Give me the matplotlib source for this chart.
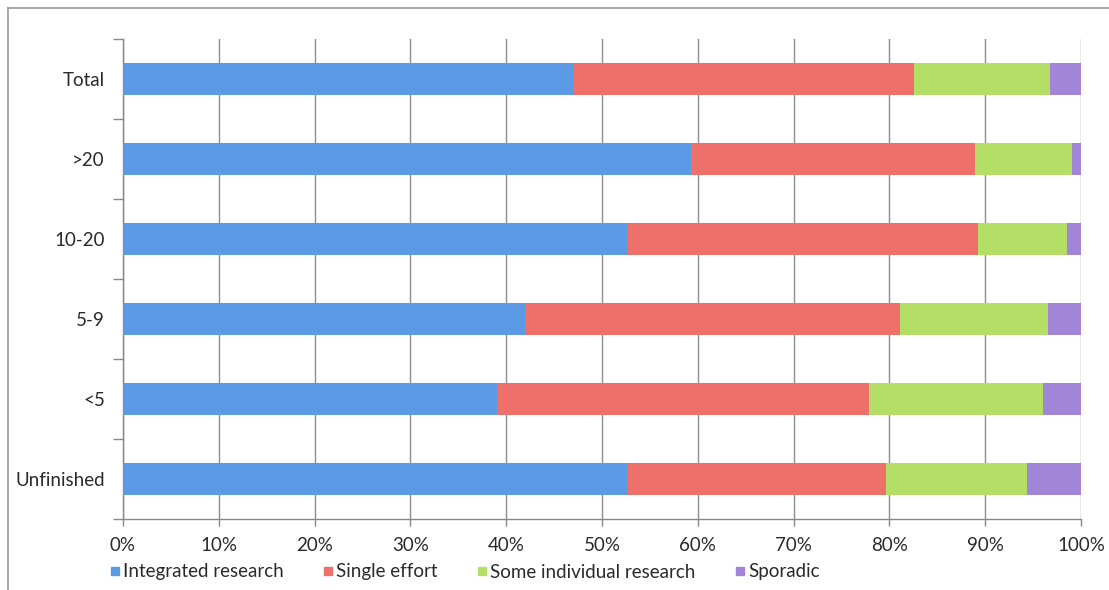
import numpy as np
import matplotlib.pyplot as plt
from matplotlib.lines import Line2D

plt.rcParams['font.family'] = ['Lato', 'DejaVu Sans']

# categories from bottom to top
groups = ['Unfinished', '<5', '5-9', '10-20', '>20', 'Total']
integrated = [52.7, 39.0, 42.0, 52.7, 59.3, 47.1]
single = [26.9, 38.9, 39.1, 36.6, 29.6, 35.5]
individual = [14.8, 18.1, 15.5, 9.2, 10.2, 14.2]
sporadic = [5.6, 4.0, 3.4, 1.5, 0.9, 3.2]

series = [
    ('Integrated research', integrated, '#5C9AE6'),
    ('Single effort', single, '#EF6F6B'),
    ('Some individual research', individual, '#B5DE66'),
    ('Sporadic', sporadic, '#A285D6'),
]

W, H = 1109, 590
fig = plt.figure(figsize=(W / 100, H / 100), dpi=100)
ax = fig.add_axes([123 / W, (H - 519) / H, (1081 - 123) / W, (519 - 39) / H])

y = np.arange(len(groups))
left = np.zeros(len(groups))
for name, vals, col in series:
    ax.barh(y, vals, left=left, height=0.4, color=col, label=name, zorder=3)
    left += np.array(vals)

ax.set_xlim(0, 100)
ax.set_ylim(-0.5, len(groups) - 0.5)
ax.set_xticks(np.arange(0, 101, 10))
ax.set_xticklabels(['{}%'.format(v) for v in range(0, 101, 10)])
ax.set_yticks(y)
ax.set_yticklabels(groups)
ax.set_yticks(np.arange(-0.5, len(groups), 1), minor=True)
ax.tick_params(axis='y', which='major', length=0, pad=13, labelsize=13.5, labelcolor='#2a2a2a')
ax.tick_params(axis='y', which='minor', length=7, color='#888888', width=1)
ax.tick_params(axis='x', length=5, color='#888888', width=1, pad=8, labelsize=13.5, labelcolor='#2a2a2a')
ax.grid(axis='x', color='#8c8c8c', linewidth=1, zorder=0)

for s in ['top', 'right']:
    ax.spines[s].set_visible(False)
for s in ['left', 'bottom']:
    ax.spines[s].set_color('#888888')
    ax.spines[s].set_linewidth(1)

handles = [Line2D([], [], marker='s', linestyle='', markersize=6, color=c) for _, _, c in series]
fig.legend(handles, [n for n, _, _ in series], loc='center', bbox_to_anchor=(464 / W, 1 - 572 / H),
           ncol=4, frameon=False, fontsize=13.5, handletextpad=0.1, columnspacing=2.0,
           handlelength=0.7, labelcolor='#2a2a2a')

# outer frame (top and left edges)
fig.add_artist(Line2D([8 / W, 1], [1 - 8 / H, 1 - 8 / H], color='#999999', linewidth=1.2))
fig.add_artist(Line2D([8 / W, 8 / W], [0, 1 - 8 / H], color='#999999', linewidth=1.2))

fig.savefig('out.png', dpi=100)
